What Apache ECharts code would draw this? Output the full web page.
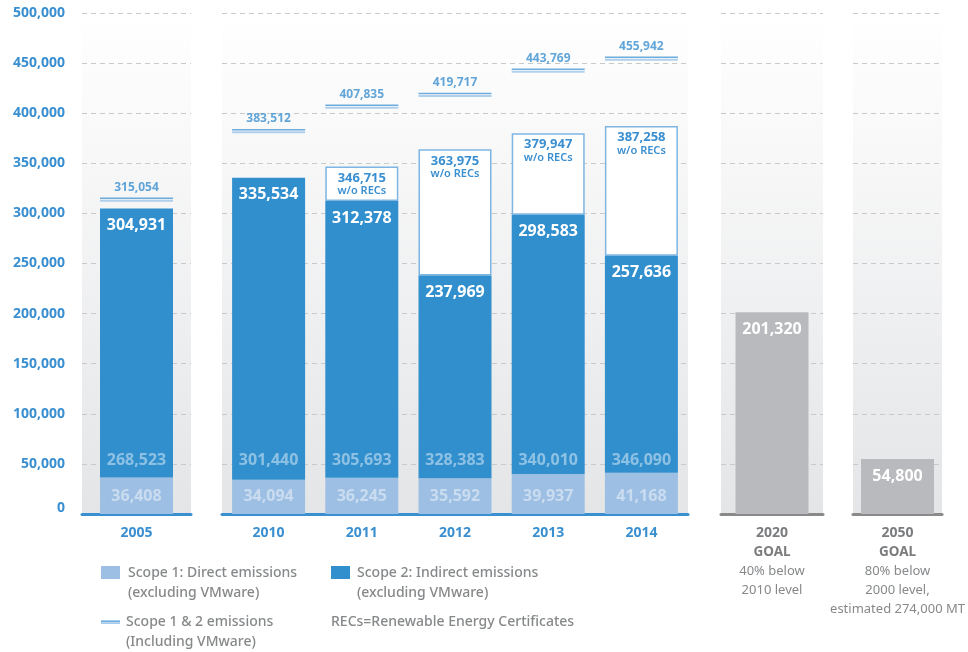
<!DOCTYPE html>
<html>
<head>
<meta charset="utf-8">
<title>Scope 1 &amp; 2 emissions</title>
<script src="https://cdn.jsdelivr.net/npm/echarts@6/dist/echarts.min.js"></script>
<style>
  html, body { margin: 0; padding: 0; background: #ffffff; }
  #chart { width: 968px; height: 652px; }
</style>
</head>
<body>
<div id="chart"></div>
<script>
// ---- data (metric tons CO2e) ----
const years = ['2005', '2010', '2011', '2012', '2013', '2014'];
const scope1 = [36408, 34094, 36245, 35592, 39937, 41168];
const scope2 = [268523, 301440, 305693, 328383, 340010, 346090];
const totalWithRecs = [304931, 335534, 312378, 237969, 298583, 257636];
const totalWithoutRecs = [null, null, 346715, 363975, 379947, 387258];
const totalInclVMware = [315054, 383512, 407835, 419717, 443769, 455942];

const goalYears = ['2020', '2050'];
const goalValues = [201320, 54800];
const goalNotes = [
  ['40% below', '2010 level'],
  ['80% below', '2000 level,', 'estimated 274,000 MT']
];

const yMin = 0, yMax = 500000, yStep = 50000;

// ---- styling ----
const FONT = '"Noto Sans", "Open Sans", sans-serif';
const BLUE_TEXT = '#3a8fd0';
const GRAY_TEXT = '#86888a';
const C_SCOPE1 = '#9dbfe3';
const C_SCOPE2 = '#318fce';
const C_GOAL = '#b9babd';
const BAR_W = 73;
const fmt = v => v.toLocaleString('en-US');

// year groups shown in the historical panels (indices into `years`)
const bluePanels = [[0], [1, 2, 3, 4, 5]];

const panelBg = {
  type: 'linear', x: 0, y: 0, x2: 0, y2: 1,
  colorStops: [{ offset: 0, color: '#ffffff' }, { offset: 1, color: '#e4e5e7' }]
};

const gridBoxes = [
  { left: 82, width: 109 },
  { left: 222, width: 466 },
  { left: 721, width: 102 },
  { left: 853, width: 105 }
];

const grid = gridBoxes.map(b => ({
  left: b.left, width: b.width, top: 13, height: 501,
  show: true, backgroundColor: panelBg, borderWidth: 0
}));

const yearLabel = {
  color: BLUE_TEXT, fontWeight: 'bold', fontSize: 14, lineHeight: 19, margin: 10
};

const xAxis = [
  ...bluePanels.map((idx, k) => ({
    gridIndex: k, type: 'category', data: idx.map(i => years[i]),
    axisLine: { lineStyle: { color: '#3a8fd0', width: 3 } },
    axisTick: { show: false },
    axisLabel: yearLabel
  })),
  ...goalYears.map((g, j) => ({
    gridIndex: 2 + j, type: 'category', data: [g],
    axisLine: { lineStyle: { color: '#8a8a8a', width: 3 } },
    axisTick: { show: false },
    axisLabel: {
      margin: 10,
      formatter: v => ['{y|' + v + '}', '{g|GOAL}']
        .concat(goalNotes[j].map(n => '{n|' + n + '}')).join('\n'),
      rich: {
        y: { color: '#7b7c7e', fontWeight: 'bold', fontSize: 14, lineHeight: 19 },
        g: { color: '#7b7c7e', fontWeight: 'bold', fontSize: 13.5, lineHeight: 19 },
        n: { color: GRAY_TEXT, fontSize: 13, lineHeight: 19 }
      }
    }
  }))
];

const yAxis = grid.map((g, k) => ({
  gridIndex: k, type: 'value', min: yMin, max: yMax, interval: yStep,
  axisLine: { show: false }, axisTick: { show: false },
  axisLabel: k === 0 ? {
    show: true, color: BLUE_TEXT, fontWeight: 'bold', fontSize: 14, margin: 17,
    formatter: v => v === 0 ? '{z|0}' : fmt(v),
    rich: { z: { color: BLUE_TEXT, fontWeight: 'bold', fontSize: 14, padding: [0, 0, 12, 0] } }
  } : { show: false },
  splitLine: { lineStyle: { color: '#c9c9c9', width: 1, type: [5, 4] } }
}));

const series = [];
bluePanels.forEach((idx, k) => {
  const stack = 'panel' + k;
  series.push({
    name: 'Scope 1: Direct emissions', type: 'bar', stack,
    xAxisIndex: k, yAxisIndex: k, barWidth: BAR_W, z: 3,
    itemStyle: { color: C_SCOPE1 },
    data: idx.map(i => scope1[i]),
    label: {
      show: true, position: 'insideBottom', distance: 0,
      formatter: p => '{f|' + fmt(scope2[idx[p.dataIndex]]) + '}\n{s|' + fmt(scope1[idx[p.dataIndex]]) + '}',
      rich: {
        f: { color: 'rgba(255,255,255,0.45)', fontWeight: 'bold', fontSize: 16, lineHeight: 36 },
        s: { color: 'rgba(255,255,255,0.45)', fontWeight: 'bold', fontSize: 16, lineHeight: 36 }
      }
    }
  });
  // scope 2 net of RECs; drawn above the white box so its lower border stays hidden
  series.push({
    name: 'Scope 2: Indirect emissions', type: 'bar', stack,
    xAxisIndex: k, yAxisIndex: k, barWidth: BAR_W, z: 3,
    itemStyle: { color: C_SCOPE2 },
    data: idx.map(i => totalWithRecs[i] - scope1[i]),
    label: {
      show: true, position: 'insideTop', distance: 9,
      color: '#ffffff', fontWeight: 'bold', fontSize: 16,
      formatter: p => fmt(totalWithRecs[idx[p.dataIndex]])
    }
  });
  series.push({
    name: 'w/o RECs', type: 'bar', stack,
    xAxisIndex: k, yAxisIndex: k, barWidth: BAR_W, z: 2,
    itemStyle: { color: '#ffffff', borderColor: '#7fb5e2', borderWidth: 1.5 },
    data: idx.map(i => totalWithoutRecs[i] == null ? null : totalWithoutRecs[i] - totalWithRecs[i]),
    label: {
      show: true, position: 'insideTop', distance: 5,
      formatter: p => '{v|' + fmt(totalWithoutRecs[idx[p.dataIndex]]) + '}\n{w|w/o RECs}',
      rich: {
        v: { color: BLUE_TEXT, fontWeight: 'bold', fontSize: 13, lineHeight: 13 },
        w: { color: BLUE_TEXT, fontWeight: 600, fontSize: 11, lineHeight: 13 }
      }
    }
  });
  // double rule marking the total including VMware
  series.push({
    name: 'Scope 1 & 2 emissions', type: 'scatter', xAxisIndex: k, yAxisIndex: k,
    symbol: 'rect', symbolSize: [BAR_W, 1.5], z: 5, silent: true,
    itemStyle: { color: '#4a98d6' },
    data: idx.map(i => totalInclVMware[i]),
    label: {
      show: true, position: 'top', distance: 4,
      color: BLUE_TEXT, fontWeight: 'bold', fontSize: 12,
      formatter: p => fmt(p.value)
    }
  });
  series.push({
    name: 'Scope 1 & 2 emissions (lower rule)', type: 'scatter', xAxisIndex: k, yAxisIndex: k,
    symbol: 'rect', symbolSize: [BAR_W, 2], symbolOffset: [0, 2.5], z: 5, silent: true,
    itemStyle: { color: '#9cc6ea' },
    data: idx.map(i => totalInclVMware[i])
  });
});

goalYears.forEach((g, j) => {
  series.push({
    name: 'Goal ' + g, type: 'bar', xAxisIndex: 2 + j, yAxisIndex: 2 + j, barWidth: BAR_W,
    itemStyle: { color: C_GOAL },
    data: [goalValues[j]],
    label: {
      show: true, position: 'insideTop', distance: 9,
      color: '#ffffff', fontWeight: 'bold', fontSize: 16,
      formatter: p => fmt(p.value)
    }
  });
});

// legend block under the chart
const legendFont = '500 14px ' + FONT;
const legendText = (text, x, y) => ({
  type: 'text', x, y, silent: true,
  style: { text, fill: GRAY_TEXT, font: legendFont, verticalAlign: 'middle', align: 'left' }
});
const graphic = [
  { type: 'rect', shape: { x: 101, y: 566, width: 19, height: 13 }, style: { fill: C_SCOPE1 } },
  legendText('Scope 1: Direct emissions', 128, 573),
  legendText('(excluding VMware)', 128, 593),
  { type: 'rect', shape: { x: 331, y: 566, width: 19, height: 13 }, style: { fill: C_SCOPE2 } },
  legendText('Scope 2: Indirect emissions', 357, 573),
  legendText('(excluding VMware)', 357, 593),
  { type: 'rect', shape: { x: 101, y: 620.5, width: 19, height: 1.3 }, style: { fill: '#4a98d6' } },
  { type: 'rect', shape: { x: 101, y: 622.3, width: 19, height: 1.6 }, style: { fill: '#9cc6ea' } },
  legendText('Scope 1 & 2 emissions', 126, 622),
  legendText('(Including VMware)', 126, 642),
  legendText('RECs=Renewable Energy Certificates', 331, 622)
];

const chart = echarts.init(document.getElementById('chart'), null, { renderer: 'canvas' });
chart.setOption({
  animation: false,
  backgroundColor: '#ffffff',
  textStyle: { fontFamily: FONT },
  grid, xAxis, yAxis, series, graphic
});
</script>
</body>
</html>
